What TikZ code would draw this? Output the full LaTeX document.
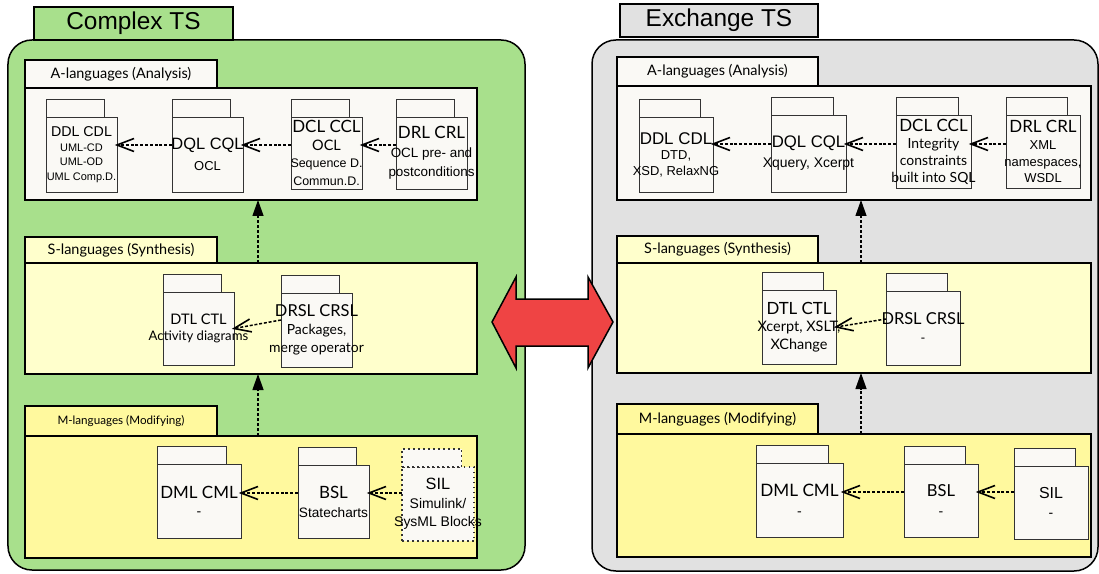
\documentclass[tikz,border=0pt]{standalone}
\usepackage{fontspec}
\setmainfont{Lato}
\newfontfamily\arialf{Liberation Sans}
\usetikzlibrary{arrows.meta,decorations.markings}

\definecolor{tsgreen}{HTML}{A8E08C}
\definecolor{tsgray}{HTML}{E1E1E1}
\definecolor{pkgwhite}{HTML}{FAF9F5}
\definecolor{synyellow}{HTML}{FFFFCC}
\definecolor{modyellow}{HTML}{FFF99E}
\definecolor{swapred}{HTML}{EF4444}

\newcommand\fsz[2]{\fontsize{#1}{#2}\selectfont}
% layer: body with its tab on the upper left corner
\newcommand\langlayer[9][]{%
  \node[layerbody,#1,minimum width={(#5-#3)*1bp},minimum height={(#6-#4)*1bp}] (#2) at ({(#3+#5)/2},{(#4+#6)/2}) {};
  \node[layertab,#1,minimum width={(#7-#3)*1bp},minimum height={(#4-#8)*1bp},anchor=south west] (#2-tab) at (#2.north west) {#9};}
% package: body, tab and centred text
\newcommand\langpkg[7][]{%
  \node[pkgbody,#1,minimum width={(#5-#3)*1bp},minimum height={(#6-#4)*1bp}] (#2) at ({(#3+#5)/2},{(#4+#6)/2}) {};
  \node[pkgbody,#1,minimum width={0.83*(#5-#3)*1bp},minimum height=18bp,anchor=south west] (#2-tab) at (#2.north west) {};
  \node[pkgtext,#1] (#2-text) at (#2.center) {#7};}

\begin{document}
\begin{tikzpicture}[x=1bp,y=-1bp,
    tsbox/.style={draw, line width=1.5bp, rounded corners=24bp, inner sep=0, outer sep=0},
    tstitle/.style={draw, line width=1.2bp, inner sep=0, outer sep=0, font=\arialf\fsz{24.5}{28}},
    layerbody/.style={draw, line width=1.6bp, inner sep=0, outer sep=0},
    layertab/.style={draw, line width=1.4bp, inner sep=0, outer sep=0, font=\fsz{14.5}{17}},
    pkgbody/.style={draw=black!80, line width=0.9bp, fill=pkgwhite, inner sep=0, outer sep=0},
    pkgtext/.style={align=center, inner sep=0, font=\fsz{13.5}{17}},
    pkgdotted/.style={dash pattern=on 1.5bp off 3.5bp, line width=1.1bp},
    dep/.style={dash pattern=on 3bp off 1.8bp, line width=1.5bp,
      postaction={decorate, decoration={markings, mark=at position 1 with
        {\draw[solid, line width=1.6bp] (-17bp,6.5bp) -- (0,0) -- (-17bp,-6.5bp);}}}},
    flow/.style={dash pattern=on 3bp off 2bp, line width=1.3bp, -{Triangle[length=16bp,width=11bp]}},
    swap/.style={draw, fill=swapred, line width=1.5bp, line join=miter}]
\useasboundingbox (0,0) rectangle (1099,574);

% Complex TS
\node[tsbox, fill=tsgreen, minimum width=517bp, minimum height=530bp] (lts) at (266.5,305) {};
\node[tstitle, fill=tsgreen, minimum width=199bp, minimum height=33bp, anchor=south west] (lts-title) at ([xshift=26bp]lts.north west) {Complex TS};

\langlayer[fill=pkgwhite]{lana}{25}{88}{477}{200}{217}{60}{A-languages (Analysis)}
\langlayer[fill=synyellow]{lsyn}{25}{263}{477}{374}{217}{237}{S-languages (Synthesis)}
\langlayer[fill=modyellow]{lmod}{25}{436}{477}{558}{217}{406}{\fsz{11.7}{14}M-languages (Modifying)}

\langpkg[font=\arialf\fsz{11}{14.5}]{lddl}{46}{117}{117}{192}{{\fsz{14.3}{17}DDL CDL}\\UML-CD\\UML-OD\\UML Comp.D.}
\langpkg[font=\arialf\fsz{13}{21}]{ldql}{172}{117}{243}{192}{{\fsz{16.5}{19}DQL CQL}\\OCL}
\langpkg[font=\fsz{12.5}{17.5}]{ldcl}{291}{117}{362}{189}{{\fsz{17}{20}DCL CCL}\\{\fsz{14.5}{17}OCL}\\{\arialf Sequence D.}\\{\arialf Commun.D.}}
\langpkg[font=\arialf\fsz{13.5}{19}]{ldrl}{396}{117}{467}{189}{{\rmfamily\fsz{17}{20}DRL CRL}\\OCL pre- and\\postconditions}

\langpkg[font=\fsz{13.2}{16}]{ldtl}{163}{292}{234}{365}{{\fsz{14.6}{17}DTL CTL}\\Activity diagrams}
\langpkg[font=\fsz{14}{18}]{ldrsl}{281}{293}{352}{367}{{\fsz{16.5}{19}DRSL CRSL}\\Packages,\\merge operator}

\langpkg[font=\fsz{14}{18}]{ldml}{157}{464}{241}{538}{{\fsz{17}{20}DML CML}\\-}
\langpkg[font=\arialf\fsz{13.7}{19}]{lbsl}{298}{465}{369}{538}{{\rmfamily\fsz{17}{20}BSL}\\Statecharts}
\langpkg[pkgdotted, font=\arialf\fsz{14}{18.5}]{lsil}{402}{467}{474}{541}{{\fsz{16.4}{19}SIL}\\Simulink/\\SysML Blocks}

\coordinate (lrowA) at (0,145);
\coordinate (lrowM) at (0,493);
\draw[dep] (ldql.west |- lrowA) -- (lddl.east |- lrowA);
\draw[dep] (ldcl.west |- lrowA) -- (ldql.east |- lrowA);
\draw[dep] (ldrl.west |- lrowA) -- (ldcl.east |- lrowA);
\draw[dep] ([yshift=10bp]ldrsl.west) -- (ldtl.east);
\draw[dep] (lbsl.west |- lrowM) -- (ldml.east |- lrowM);
\draw[dep] (lsil.west |- lrowM) -- (lbsl.east |- lrowM);
\draw[flow] ([xshift=7bp]lsyn.north) -- ([xshift=7bp]lana.south);
\draw[flow] ([xshift=7bp]lmod.north) -- ([xshift=7bp]lsyn.south);

% Exchange TS
\node[tsbox, fill=tsgray, minimum width=506bp, minimum height=531bp] (rts) at (845,305.5) {};
\node[tstitle, fill=tsgray, minimum width=198bp, minimum height=33bp, anchor=south west] (rts-title) at ([xshift=28bp,yshift=3bp]rts.north west) {Exchange TS};

\langlayer[fill=pkgwhite]{rana}{617}{86}{1091}{200}{818}{57}{A-languages (Analysis)}
\langlayer[fill=synyellow]{rsyn}{617}{263}{1091}{373}{818}{236}{S-languages (Synthesis)}
\langlayer[fill=modyellow]{rmod}{617}{434}{1091}{557}{818}{404}{M-languages (Modifying)}

\langpkg[font=\arialf\fsz{13}{15.5}]{rddl}{639}{117}{713}{192}{{\fsz{17}{20}DDL CDL}\\DTD,\\XSD, RelaxNG}
\langpkg[font=\arialf\fsz{14}{20}]{rdql}{771}{115}{846}{192}{{\fsz{16.8}{20}DQL CQL}\\Xquery, Xcerpt}
\langpkg[font=\fsz{14}{17}]{rdcl}{896}{115}{971}{188}{{\fsz{17}{20}DCL CCL}\\Integrity\\constraints\\built into SQL}
\langpkg[font=\arialf\fsz{13}{17}]{rdrl}{1006}{115}{1080}{188}{{\rmfamily\fsz{17}{20}DRL CRL}\\XML\\namespaces,\\WSDL}

\langpkg[font=\fsz{14.5}{17.5}]{rdtl}{762}{290}{836}{364}{{\fsz{16.9}{20}DTL CTL}\\Xcerpt, XSLT,\\XChange}
\langpkg[font=\fsz{13}{18}]{rdrsl}{886}{291}{960}{365}{{\fsz{16.5}{19}DRSL CRSL}\\-}

\langpkg[font=\fsz{14}{20}]{rdml}{756}{463}{843}{537}{{\fsz{17.2}{20}DML CML}\\-}
\langpkg[font=\fsz{14}{20}]{rbsl}{904}{464}{978}{537}{{\fsz{16.6}{20}BSL}\\-}
\langpkg[font=\arialf\fsz{14}{19}]{rsil}{1014}{466}{1088}{539}{{\fsz{16}{19}SIL}\\-}

\coordinate (rrowA) at (0,144);
\coordinate (rrowM) at (0,492);
\draw[dep] (rdql.west |- rrowA) -- (rddl.east |- rrowA);
\draw[dep] (rdcl.west |- rrowA) -- (rdql.east |- rrowA);
\draw[dep] (rdrl.west |- rrowA) -- (rdcl.east |- rrowA);
\draw[dep] ([yshift=9bp]rdrsl.west) -- (rdtl.east);
\draw[dep] (rbsl.west |- rrowM) -- (rdml.east |- rrowM);
\draw[dep] (rsil.west |- rrowM) -- (rbsl.east |- rrowM);
\draw[flow] ([xshift=7bp]rsyn.north) -- ([xshift=7bp]rana.south);
\draw[flow] ([xshift=7bp]rmod.north) -- ([xshift=7bp]rsyn.south);

% exchange between the two
\draw[swap] (492,322) -- (516,277) -- (516,299) -- (588,299) -- (588,277) -- (613,322)
  -- (588,368) -- (588,346) -- (516,346) -- (516,368) -- cycle;
\end{tikzpicture}
\end{document}
